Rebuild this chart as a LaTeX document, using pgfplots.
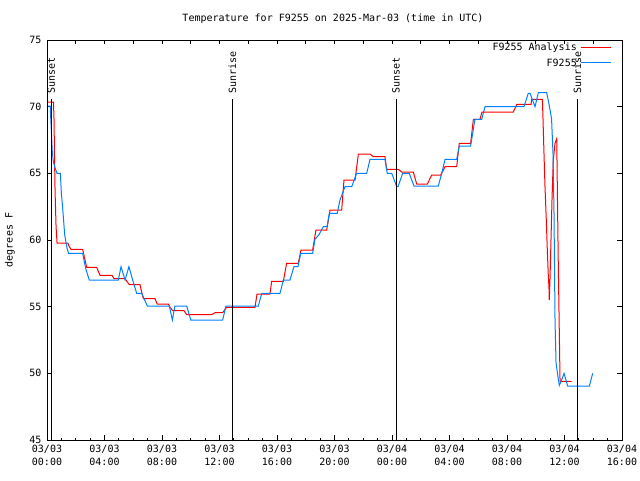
\documentclass[border=0pt]{standalone}
\usepackage{fontspec}
\setmainfont{DejaVu Sans Mono}
\usepackage{pgfplots}
\pgfplotsset{compat=1.18}
\definecolor{anared}{RGB}{255,0,0}
\definecolor{obsblue}{RGB}{0,128,255}
\begin{document}
\fontsize{10}{12}\selectfont
\begin{tikzpicture}
\useasboundingbox (-47pt,-40pt) rectangle (593pt,440pt);
\begin{axis}[
  scale only axis, width=575pt, height=400pt,
  xmin=0, xmax=40, ymin=45, ymax=75,
  xtick={0,4,...,40},
  xticklabels={{03/03\\00:00},{03/03\\04:00},{03/03\\08:00},{03/03\\12:00},{03/03\\16:00},{03/03\\20:00},{03/04\\00:00},{03/04\\04:00},{03/04\\08:00},{03/04\\12:00},{03/04\\16:00}},
  xticklabel style={align=center, font=\fontsize{10}{13}\selectfont, yshift=-2pt},
  minor x tick num=3,
  xtick pos=left,
  ytick={45,50,...,75},
  yticklabel style={font=\fontsize{10}{12}\selectfont, xshift=-2pt},
  tick align=inside,
  major tick length=5pt, minor tick length=2.5pt,
  every tick/.style={black, line width=0.8pt},
  axis line style={line width=0.8pt},
  /pgf/number format/assume math mode=true,
]
\addplot[anared, line width=1pt] coordinates {
(0.00,70.35) (0.45,70.35) (0.49,69.0) (0.52,66.5) (0.56,63.7) (0.63,61.0) (0.70,59.77) (1.46,59.77) (1.50,59.6) (1.67,59.3) (2.48,59.3) (2.54,59.0) (2.76,57.95) (3.46,57.95) (3.55,57.7) (3.69,57.35) (4.52,57.35) (4.66,57.1) (5.43,57.1) (5.59,56.85) (5.73,56.65) (6.47,56.65) (6.54,56.3) (6.70,55.6) (7.51,55.6) (7.67,55.2) (8.44,55.2) (8.56,54.95) (8.74,54.7) (9.53,54.7) (9.72,54.4) (11.46,54.4) (11.69,54.55) (12.22,54.55) (12.50,54.95) (14.47,54.95) (14.61,55.95) (15.51,55.95) (15.63,56.9) (16.44,56.9) (16.67,58.25) (17.48,58.25) (17.67,59.25) (18.48,59.25) (18.71,60.75) (19.46,60.75) (19.69,62.25) (20.50,62.25) (20.66,64.5) (21.43,64.5) (21.66,66.45) (22.47,66.45) (22.70,66.25) (23.51,66.25) (23.63,65.3) (24.44,65.3) (24.67,65.1) (25.48,65.1) (25.72,64.2) (26.46,64.2) (26.76,64.87) (27.39,64.87) (27.69,65.5) (28.50,65.5) (28.68,67.25) (29.47,67.25) (29.66,69.05) (30.12,69.05) (30.26,69.6) (32.44,69.6) (32.68,70.17) (33.67,70.17) (33.72,70.55) (34.46,70.55) (34.50,69.25) (34.57,66.6) (34.64,64.1) (34.73,61.6) (34.80,59.4) (34.87,57.4) (34.92,56.4) (34.94,55.5) (34.99,57.0) (35.06,60.0) (35.13,63.0) (35.22,66.0) (35.34,67.25) (35.46,67.6) (35.50,64.0) (35.57,58.0) (35.64,53.0) (35.69,49.4) (36.50,49.4)
};
\addplot[obsblue, line width=1pt] coordinates {
(0.00,70.05) (0.23,70.05) (0.24,69.6) (0.31,68.0) (0.37,66.6) (0.44,65.9) (0.56,65.4) (0.70,65.0) (0.93,65.0) (1.00,63.5) (1.09,62.4) (1.16,61.4) (1.23,60.4) (1.39,59.4) (1.50,59.0) (2.48,59.0) (2.57,58.5) (2.71,57.8) (2.94,57.0) (4.96,57.0) (5.15,58.0) (5.43,57.0) (5.70,58.0) (5.96,57.0) (6.24,56.0) (6.59,56.0) (6.98,55.05) (8.51,55.05) (8.72,54.0) (8.90,55.05) (9.72,55.05) (10.00,54.0) (12.22,54.0) (12.45,55.05) (14.70,55.05) (14.94,56.0) (16.21,56.0) (16.44,57.0) (16.90,57.0) (17.18,58.0) (17.46,58.0) (17.65,59.0) (18.48,59.0) (18.64,60.05) (18.92,60.4) (19.22,61.0) (19.48,61.0) (19.64,62.0) (20.19,62.0) (20.38,63.0) (20.73,64.0) (21.20,64.0) (21.54,65.0) (22.24,65.0) (22.47,66.05) (23.51,66.05) (23.67,65.0) (23.98,65.0) (24.33,64.0) (24.42,64.0) (24.74,65.0) (25.20,65.0) (25.53,64.05) (27.22,64.05) (27.46,65.0) (27.69,66.05) (28.50,66.05) (28.68,67.05) (29.47,67.05) (29.77,69.05) (30.24,69.05) (30.47,70.0) (33.18,70.0) (33.48,71.0) (33.60,71.0) (33.95,70.0) (34.18,71.05) (34.76,71.05) (34.92,70.2) (35.10,69.1) (35.20,66.5) (35.27,62.0) (35.34,54.0) (35.41,50.8) (35.51,50.0) (35.64,49.1) (35.76,49.4) (35.97,50.0) (36.22,49.05) (37.73,49.05) (37.96,50.0)
};
\draw[line width=0.8pt] (axis cs:0.30,45) -- (axis cs:0.30,70.6);
\node[rotate=90, anchor=west, inner sep=0pt] at (axis cs:0.30,71.0) {Sunset};
\draw[line width=0.8pt] (axis cs:12.89,45) -- (axis cs:12.89,70.6);
\node[rotate=90, anchor=west, inner sep=0pt] at (axis cs:12.89,71.0) {Sunrise};
\draw[line width=0.8pt] (axis cs:24.28,45) -- (axis cs:24.28,70.6);
\node[rotate=90, anchor=west, inner sep=0pt] at (axis cs:24.28,71.0) {Sunset};
\draw[line width=0.8pt] (axis cs:36.89,45) -- (axis cs:36.89,70.6);
\node[rotate=90, anchor=west, inner sep=0pt] at (axis cs:36.89,71.0) {Sunrise};
\end{axis}
\begin{axis}[
  scale only axis, width=575pt, height=400pt,
  xmin=0, xmax=40, ymin=45, ymax=75,
  xtick={0,2,...,40}, xticklabels={},
  xtick pos=right, ytick=\empty,
  tick align=inside, major tick length=4pt,
  every tick/.style={black, line width=0.8pt},
  axis line style={line width=0.8pt},
]
\end{axis}
% legend
\node[anchor=east, inner sep=0pt] at (530pt,392pt) {F9255 Analysis};
\node[anchor=east, inner sep=0pt] at (530pt,377pt) {F9255};
\fill[red] (534pt,391.5pt) rectangle (564pt,392.7pt);
\fill[obsblue] (534pt,376.5pt) rectangle (564pt,377.7pt);
\node at (286pt,421pt) {Temperature for F9255 on 2025-Mar-03 (time in UTC)};
\node[rotate=90] at (-37pt,200pt) {degrees F};
\end{tikzpicture}
\end{document}
